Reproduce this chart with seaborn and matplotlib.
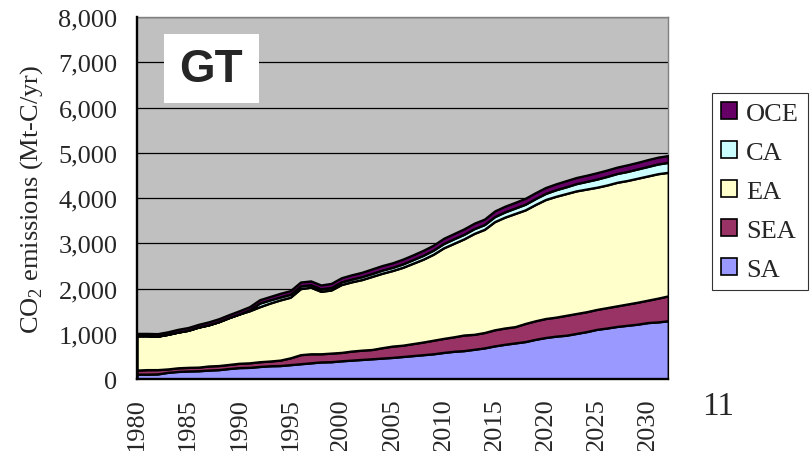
import numpy as np
import pandas as pd
import matplotlib
matplotlib.use("Agg")
import matplotlib.pyplot as plt
import seaborn as sns
from matplotlib.patches import Patch, Rectangle

sns.set_style("white")
plt.rcParams["font.family"] = ["Liberation Serif", "DejaVu Serif"]
plt.rcParams["mathtext.fontset"] = "custom"
plt.rcParams["mathtext.rm"] = "Liberation Serif"

# Data (Mt-C/yr)
years = list(range(1980, 2033))

sa = [110, 110, 115, 150, 170, 180, 185, 200, 210, 235,
      255, 260, 280, 295, 300, 320, 340, 360, 380, 385,
      405, 420, 435, 450, 465, 480, 500, 520, 540, 560,
      590, 615, 630, 660, 690, 735, 770, 800, 830, 880,
      920, 950, 970, 1010, 1050, 1100, 1130, 1165, 1190, 1215,
      1250, 1265, 1290]

sea = [90, 100, 95, 75, 80, 80, 80, 90, 90, 90,
       95, 100, 105, 105, 120, 150, 200, 200, 180, 190,
       185, 200, 205, 205, 230, 250, 250, 265, 280, 300,
       310, 320, 345, 330, 340, 355, 360, 360, 400, 410,
       420, 420, 440, 440, 440, 440, 450, 455, 470, 485,
       495, 525, 550]

ea = [760, 750, 740, 765, 790, 820, 885, 910, 970, 1035,
      1090, 1150, 1215, 1280, 1330, 1340, 1460, 1470, 1380, 1395,
      1500, 1530, 1560, 1615, 1645, 1670, 1720, 1775, 1830, 1900,
      2000, 2065, 2125, 2230, 2280, 2390, 2450, 2500, 2510, 2570,
      2630, 2670, 2690, 2710, 2710, 2700, 2710, 2730, 2730, 2740,
      2745, 2750, 2730]

ca = [0, 0, 0, 0, 0, 0, 0, 0, 0, 0,
      0, 20, 80, 70, 65, 65, 60, 55, 55, 55,
      60, 60, 65, 65, 70, 70, 75, 80, 85, 90,
      95, 100, 100, 105, 105, 110, 115, 120, 125, 130,
      135, 145, 150, 160, 170, 180, 190, 195, 200, 205,
      210, 215, 220]

oce = [50, 50, 55, 55, 60, 60, 60, 65, 65, 65,
       70, 70, 75, 75, 80, 80, 85, 85, 85, 90,
       90, 95, 95, 100, 100, 100, 105, 105, 110, 110,
       115, 115, 120, 120, 120, 125, 125, 125, 130, 130,
       130, 130, 135, 135, 135, 140, 140, 140, 145, 145,
       150, 150, 150]

regions = ["SA", "SEA", "EA", "CA", "OCE"]
colors = ["#9999FF", "#993366", "#FFFFCC", "#CCFFFF", "#660066"]

df = pd.DataFrame({"year": years, "SA": sa, "SEA": sea, "EA": ea, "CA": ca, "OCE": oce})

fig = plt.figure(figsize=(8.11, 4.52), dpi=100)
ax = fig.add_axes([0.169, 0.159, 0.655, 0.801])
ax.set_facecolor("#C0C0C0")

ax.stackplot(df["year"], [df[r] for r in regions], colors=colors,
             edgecolor="black", linewidth=1.7, zorder=3)

ax.set_xlim(1980, 2032)
ax.set_ylim(0, 8000)
ax.set_yticks(np.arange(0, 8001, 1000))
ax.set_yticklabels([f"{v:,}" for v in range(0, 8001, 1000)], fontsize=19)
ax.set_xticks(range(1980, 2031, 5))
ax.set_xticklabels([str(y) for y in range(1980, 2031, 5)], fontsize=19, rotation=90)
ax.yaxis.grid(True, color="black", linewidth=0.9, zorder=1)
ax.set_axisbelow(True)
ax.tick_params(axis="x", direction="in", length=6, width=1, color="black", pad=13)
ax.tick_params(axis="y", length=0, pad=14)
for s in ["left", "bottom"]:
    ax.spines[s].set_color("black")
    ax.spines[s].set_linewidth(1.7)
    ax.spines[s].set_zorder(5)
for s in ["top", "right"]:
    ax.spines[s].set_color("#808080")
    ax.spines[s].set_linewidth(1.0)

ax.set_ylabel(r"CO$_\mathrm{2}$ emissions (Mt-C/yr)", fontsize=19, labelpad=10)

# GT label box
ax.add_patch(Rectangle((0.051, 0.762), 0.179, 0.191, transform=ax.transAxes,
                       facecolor="white", edgecolor="none", zorder=6))
ax.text(0.140, 0.857, "GT", transform=ax.transAxes, ha="center", va="center",
        fontsize=33, fontweight="bold", family="Liberation Sans", zorder=7)

handles = [Patch(facecolor=c, edgecolor="black", linewidth=1.2, label=r)
           for r, c in zip(regions, colors)]
leg = fig.legend(handles=handles[::-1], loc="upper left", bbox_to_anchor=(0.878, 0.792),
                 fontsize=19, frameon=True, fancybox=False, edgecolor="black",
                 handlelength=0.6, handleheight=0.6, handletextpad=0.35,
                 labelspacing=0.62, borderpad=0.35, borderaxespad=0)
leg.get_frame().set_linewidth(0.8)

fig.text(0.866, 0.0996, "11", fontsize=24, ha="left", va="center")

fig.savefig("out.png", dpi=100)
